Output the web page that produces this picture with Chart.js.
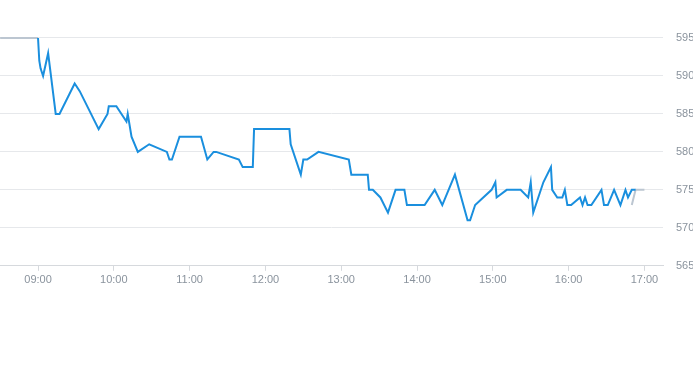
<!DOCTYPE html>
<html>
<head>
<meta charset="utf-8">
<script src="https://cdn.jsdelivr.net/npm/chart.js@4/dist/chart.umd.min.js"></script>
<style>
html,body{margin:0;padding:0;background:#fff;}
#wrap{width:693px;height:365px;position:relative;}
</style>
</head>
<body>
<div id="wrap"><canvas id="c"></canvas></div>
<script>
const priceTimes = ["09:00","09:01","09:02","09:04","09:08","09:14","09:17","09:29","09:33","09:48","09:55","09:56","10:02","10:10","10:11","10:14","10:19","10:28","10:42","10:44","10:46","10:52","11:09","11:14","11:19","11:21","11:39","11:42","11:50","11:51","12:19","12:20","12:28","12:30","12:33","12:42","13:06","13:08","13:21","13:22","13:25","13:31","13:37","13:43","13:50","13:52","14:06","14:14","14:20","14:30","14:40","14:42","14:46","14:59","15:02","15:03","15:11","15:22","15:28","15:30","15:32","15:40","15:46","15:47","15:51","15:55","15:57","15:59","16:02","16:09","16:11","16:13","16:15","16:18","16:26","16:28","16:31","16:36","16:41","16:45","16:47","16:50","16:53"];
const priceValues = [595,592,591,590,593,585,585,589,588,583,585,586,586,584,585,582,580,581,580,579,579,582,582,579,580,580,579,578,578,583,583,581,577,579,579,580,579,577,577,575,575,574,572,575,575,573,573,575,573,577,571,571,573,575,576,574,575,575,574,576,572,576,578,575,574,574,575,573,573,574,573,574,573,573,575,573,573,575,573,575,574,575,575];
const offTimes = ["08:30","09:00",null,"16:50","16:53","17:00"];
const offValues = [595,595,null,573,575,575];
const yTickValues = [565,570,575,580,585,590,595];
const xTickLabels = ["09:00","10:00","11:00","12:00","13:00","14:00","15:00","16:00","17:00"];

function toMin(t){ const p=t.split(":"); return (+p[0])*60+(+p[1]); }
function pts(times, vals){ return times.map((t,i)=> t===null ? {x:null,y:null} : {x:toMin(t), y:vals[i]}); }

const xMin = 509.9, xMax = 1034.7;

new Chart(document.getElementById('c'), {
  type: 'line',
  data: {
    datasets: [
      {data: pts(offTimes, offValues), borderColor: '#bcc6d1', borderWidth: 2, pointRadius: 0, tension: 0, spanGaps: false, order: 2},
      {data: pts(priceTimes, priceValues), borderColor: '#1a8fde', borderWidth: 2, pointRadius: 0, tension: 0, order: 1}
    ]
  },
  options: {
    responsive: true,
    maintainAspectRatio: false,
    animation: false,
    layout: {padding: {top: 0, right: 0, bottom: 75, left: 0}},
    plugins: {legend: {display: false}, tooltip: {enabled: false}},
    scales: {
      x: {
        type: 'linear',
        min: xMin, max: xMax,
        afterBuildTicks: (axis) => { axis.ticks = xTickLabels.map(l => ({value: toMin(l)})); },
        afterFit: (axis) => { axis.paddingLeft = 0; axis.paddingRight = 0; },
        ticks: {
          autoSkip: false, maxRotation: 0,
          color: '#8a939d',
          font: {family: 'Liberation Sans, Arial, sans-serif', size: 11},
          padding: 3,
          callback: (v) => { const h=Math.floor(v/60), m=v%60; return String(h).padStart(2,'0')+':'+String(m).padStart(2,'0'); }
        },
        grid: {drawOnChartArea: false, drawTicks: true, tickLength: 5, color: '#d6d9dd'},
        border: {display: true, color: '#d6d9dd'}
      },
      y: {
        position: 'right',
        min: 565, max: 600,
        afterBuildTicks: (axis) => { axis.ticks = yTickValues.map(v => ({value: v})); },
        afterFit: (axis) => { axis.width = 30; axis.paddingTop = 0; axis.paddingBottom = 0; },
        ticks: {
          color: '#8a939d',
          font: {family: 'Liberation Sans, Arial, sans-serif', size: 11},
          padding: 13
        },
        grid: {color: '#e6e8eb', drawTicks: false},
        border: {display: false}
      }
    }
  }
});
</script>
</body>
</html>
